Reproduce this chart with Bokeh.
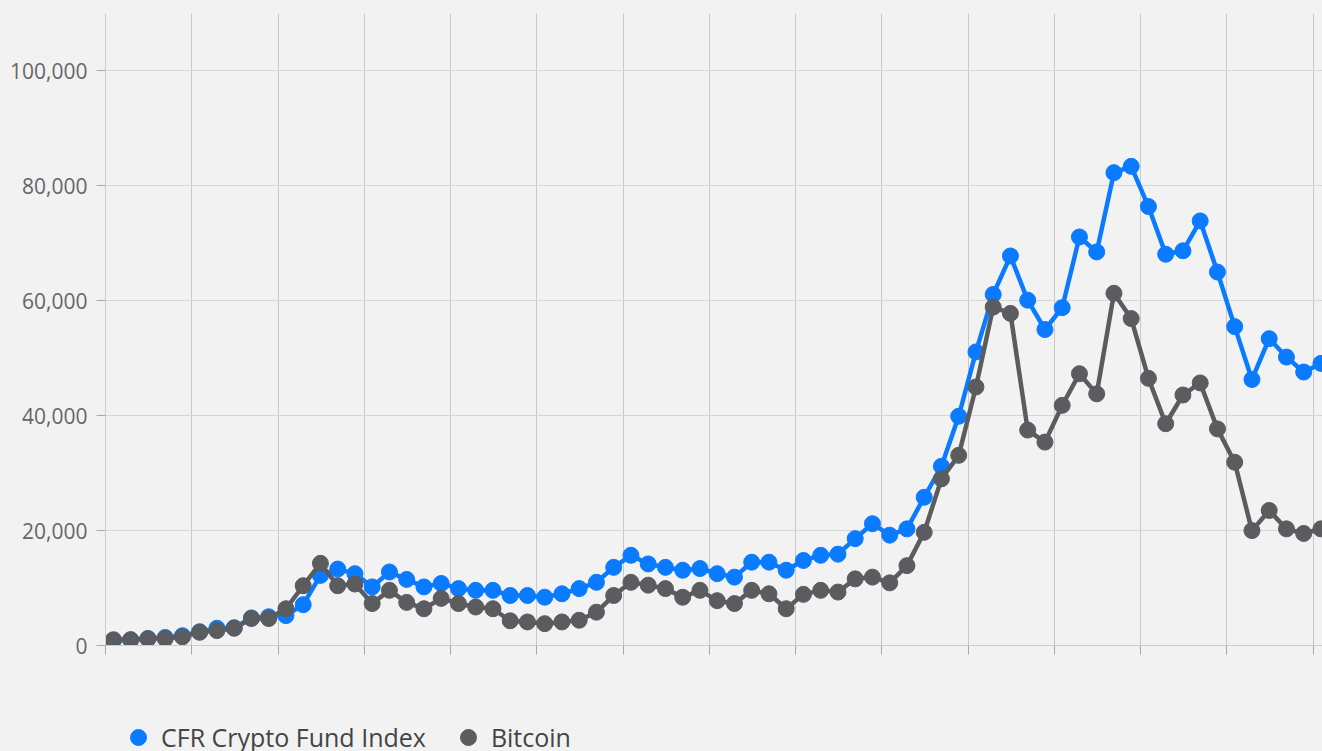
from bokeh.plotting import figure
from bokeh.layouts import column
from bokeh.models import (ColumnDataSource, FixedTicker, NumeralTickFormatter,
                          Legend, LegendItem, Range1d)
from bokeh.embed import file_html
from bokeh.resources import INLINE

month = list(range(71))
cfr_index = [0.9, 1.0, 1.2, 1.4, 1.7, 2.4, 3.0, 3.1, 4.8, 5.0,
             5.2, 7.1, 12.2, 13.3, 12.5, 10.2, 12.8, 11.5, 10.2, 10.8,
             9.9, 9.6, 9.6, 8.7, 8.7, 8.4, 9.0, 9.9, 11.0, 13.6,
             15.7, 14.2, 13.6, 13.1, 13.4, 12.5, 11.9, 14.5, 14.5, 13.1,
             14.8, 15.7, 15.9, 18.6, 21.2, 19.2, 20.3, 25.8, 31.2, 39.9,
             51.1, 61.1, 67.8, 60.1, 55.0, 58.8, 71.1, 68.5, 82.3, 83.4,
             76.4, 68.1, 68.7, 73.9, 65.0, 55.5, 46.3, 53.4, 50.2, 47.6,
             49.1]
bitcoin = [1.0, 1.0, 1.2, 1.2, 1.5, 2.3, 2.6, 3.0, 4.7, 4.7,
           6.4, 10.4, 14.3, 10.4, 10.7, 7.3, 9.6, 7.5, 6.4, 8.2,
           7.3, 6.7, 6.4, 4.3, 4.1, 3.8, 4.1, 4.4, 5.8, 8.7,
           11.0, 10.5, 9.9, 8.4, 9.6, 7.8, 7.3, 9.6, 9.0, 6.4,
           8.9, 9.6, 9.3, 11.6, 11.9, 10.9, 13.9, 19.7, 29.0, 33.1,
           45.0, 58.9, 57.8, 37.5, 35.4, 41.8, 47.3, 43.8, 61.3, 56.9,
           46.5, 38.6, 43.6, 45.7, 37.7, 31.9, 20.0, 23.5, 20.3, 19.5,
           20.3]
cfr_index = [v * 1000 for v in cfr_index]
bitcoin = [v * 1000 for v in bitcoin]
series_names = ["CFR Crypto Fund Index", "Bitcoin"]
y_ticks = [0, 20000, 40000, 60000, 80000, 100000]

BLUE = "#0a7bff"
GRAY = "#5a5c5f"
BG = "#f2f2f2"
FONT = "Open Sans"

src = ColumnDataSource(dict(month=month, cfr=cfr_index, btc=bitcoin))

p = figure(width=1322, height=670, output_backend="svg", toolbar_location=None,
           x_range=Range1d(-0.46, 70.09), y_range=Range1d(0, 110000),
           min_border_left=105, min_border_right=0, min_border_top=13,
           min_border_bottom=25)
p.background_fill_color = BG
p.border_fill_color = BG
p.outline_line_color = None

p.line("month", "cfr", source=src, line_color=BLUE, line_width=4.5)
p.scatter("month", "cfr", source=src, size=16, fill_color=BLUE, line_color=BLUE)
p.line("month", "btc", source=src, line_color=GRAY, line_width=4.5)
p.scatter("month", "btc", source=src, size=16, fill_color=GRAY, line_color=GRAY)

# axes
xt = [-0.46 + 5 * k for k in range(15)]
p.xaxis.ticker = FixedTicker(ticks=xt)
p.xaxis.major_label_text_font_size = "0px"
p.xaxis.major_label_text_color = None
p.xaxis.major_label_standoff = 0
p.xaxis.minor_tick_line_color = None
p.xaxis.major_tick_out = 9
p.xaxis.major_tick_in = 0
p.xaxis.major_tick_line_color = "#a8a8a8"
p.xaxis.axis_line_color = "#cccccc"

p.yaxis.ticker = FixedTicker(ticks=y_ticks)
p.yaxis.formatter = NumeralTickFormatter(format="0,0")
p.yaxis.minor_tick_line_color = None
p.yaxis.major_tick_out = 9
p.yaxis.major_tick_in = 0
p.yaxis.major_tick_line_color = "#a8a8a8"
p.yaxis.axis_line_color = "#cccccc"
p.yaxis.major_label_standoff = 9
p.yaxis.major_label_text_font = FONT
p.yaxis.major_label_text_font_size = "21px"
p.yaxis.major_label_text_color = "#666666"

p.xgrid.ticker = FixedTicker(ticks=xt)
p.xgrid.grid_line_color = "#c9c9c9"
p.ygrid.grid_line_color = "#d6d6d6"

# legend strip below the chart (series drawn here are outside its view; they only feed the legend)
lf = figure(width=1322, height=81, output_backend="svg", toolbar_location=None,
            x_axis_location=None, y_axis_location=None,
            x_range=Range1d(-0.46, 70.09), y_range=Range1d(-2e6, -1e6),
            min_border=0, min_border_left=105)
lf.background_fill_color = BG
lf.border_fill_color = BG
lf.outline_line_color = None
lf.grid.visible = False
k1m = lf.scatter("month", "cfr", source=src, size=16, fill_color=BLUE, line_color=BLUE)
k2m = lf.scatter("month", "btc", source=src, size=16, fill_color=GRAY, line_color=GRAY)

legend = Legend(items=[LegendItem(label=series_names[0], renderers=[k1m]),
                       LegendItem(label=series_names[1], renderers=[k2m])],
                orientation="horizontal", location=(13, -6),
                label_text_font=FONT, label_text_font_size="25px",
                label_text_color="#444444", glyph_width=40, glyph_height=40,
                label_standoff=3, spacing=22, padding=0, margin=0,
                background_fill_alpha=0, border_line_alpha=0)
lf.add_layout(legend, "center")

layout = column(p, lf, spacing=0, styles={"background-color": BG})
open("out.html", "w").write(file_html(layout, INLINE))
